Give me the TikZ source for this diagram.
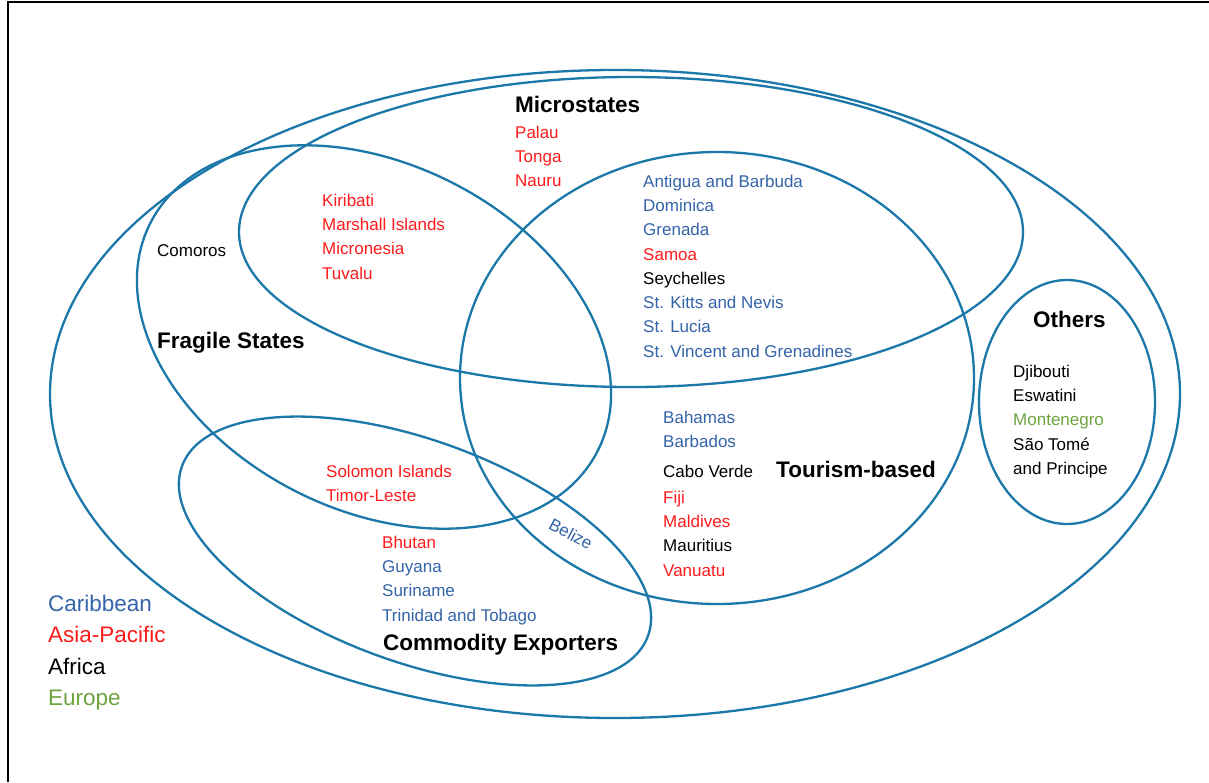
\documentclass[tikz,border=0pt]{standalone}
\usepackage{fontspec}
\setmainfont{Liberation Sans}
\definecolor{ringblue}{HTML}{1B78A8}
\definecolor{caribblue}{HTML}{3363A8}
\definecolor{asiared}{HTML}{FF1A1A}
\definecolor{europegreen}{HTML}{6EA43F}

\begin{document}
\begin{tikzpicture}[x=1pt, y=-1pt,
    ring/.style={draw=ringblue, line width=2.3pt},
    country/.style={anchor=north west, inner sep=0pt, align=left, font=\fontsize{17}{24.3}\selectfont},
    group/.style={anchor=base west, inner sep=0pt, font=\fontsize{22.5}{27}\selectfont\bfseries},
    key/.style={anchor=north west, inner sep=0pt, align=left, font=\fontsize{22.5}{31.2}\selectfont}]
  \useasboundingbox (0,0) rectangle (1209,782);
  % frame
  \draw[line width=2pt] (8,782) -- (8,2) -- (1209,2);
  % sets
  \draw[ring] (615,394) ellipse [x radius=565, y radius=324];
  \draw[ring] (631,232) ellipse [x radius=392, y radius=155];
  \draw[ring, rotate around={-27:(374,337)}] (374,337) ellipse [x radius=251, y radius=173];
  \draw[ring] (717,378) ellipse [x radius=257, y radius=226];
  \draw[ring, rotate around={-20:(415,551)}] (415,551) ellipse [x radius=248, y radius=111];
  \draw[ring] (1067,402) ellipse [x radius=88, y radius=122];
  % set names
  \node[group] (micro) at (515,112) {Microstates};
  \node[group] (fragile) at (157,348) {Fragile States};
  \node[group] (tourism) at (776,477) {Tourism-based};
  \node[group] (commodity) at (383,650) {Commodity Exporters};
  \node[group] (others) at (1033,327) {Others};
  % countries
  \node[country, text=asiared] (microonly) at (515,125.6) {Palau\\Tonga\\Nauru};
  \node[country, text=asiared] (microfrag) at (322,193.6) {Kiribati\\Marshall Islands\\Micronesia\\Tuvalu};
  \node[country] (fragonly) at (157,244.6) {Comoros};
  \node[country] (microtour) at (643,174.6) {\textcolor{caribblue}{Antigua and Barbuda}\\
    \textcolor{caribblue}{Dominica}\\\textcolor{caribblue}{Grenada}\\\textcolor{asiared}{Samoa}\\
    Seychelles\\\textcolor{caribblue}{St. Kitts and Nevis}\\\textcolor{caribblue}{St. Lucia}\\
    \textcolor{caribblue}{St. Vincent and Grenadines}};
  \node[country] (touronly) at (663,410.6) {\textcolor{caribblue}{Bahamas}\\
    \textcolor{caribblue}{Barbados}\\[5.5pt]Cabo Verde\\[1.7pt]\textcolor{asiared}{Fiji}\\
    \textcolor{asiared}{Maldives}\\Mauritius\\\textcolor{asiared}{Vanuatu}};
  \node[country, text=asiared] (fragcomm) at (326,464.6) {Solomon Islands\\Timor-Leste};
  \node[country] (commonly) at (382,535.6) {\textcolor{asiared}{Bhutan}\\
    \textcolor{caribblue}{Guyana}\\\textcolor{caribblue}{Suriname}\\
    \textcolor{caribblue}{Trinidad and Tobago}};
  \node[country, anchor=center, rotate=-28, text=caribblue] (tourcomm) at (571,534) {Belize};
  \node[country] (otherlist) at (1013,364.6) {Djibouti\\Eswatini\\
    \textcolor{europegreen}{Montenegro}\\São Tomé\\and Principe};
  % regions
  \node[key] (regions) at (48,595.2) {\textcolor{caribblue}{Caribbean}\\
    \textcolor{asiared}{Asia-Pacific}\\Africa\\\textcolor{europegreen}{Europe}};
\end{tikzpicture}
\end{document}
